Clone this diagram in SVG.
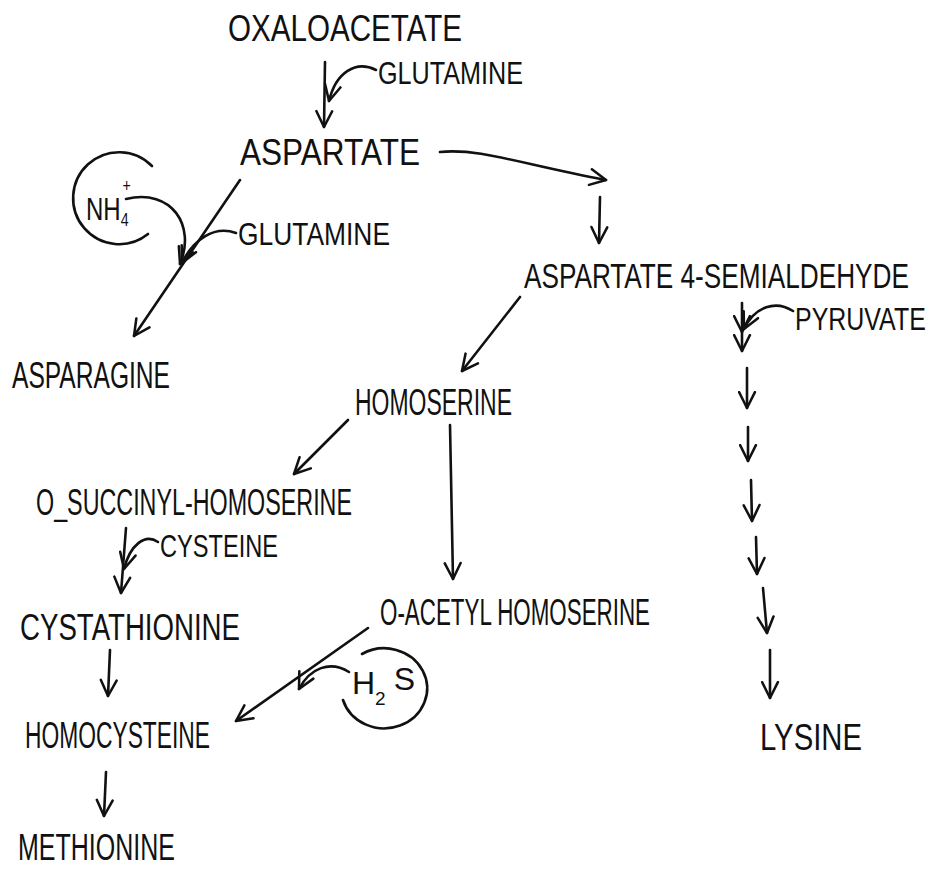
<svg xmlns="http://www.w3.org/2000/svg" width="933" height="869" viewBox="0 0 933 869">
  <defs>
    <!-- open chevron arrowhead, hand-drawn style -->
    <marker id="head" viewBox="0 0 12 12" refX="11" refY="6" markerWidth="19" markerHeight="19" markerUnits="userSpaceOnUse" orient="auto">
      <path d="M1,1 L11,6 L1,11" fill="none" stroke="#111" stroke-width="1.6" stroke-linecap="round" stroke-linejoin="round"/>
    </marker>
  </defs>
  <style>
    text { font-family: "Liberation Sans", Arial, sans-serif; fill: #111; font-size: 36px; }
    .sm { font-size: 32px; }
    .sub { font-size: 19px; }
    .wire { fill: none; stroke: #111; stroke-width: 2.6; stroke-linecap: round; stroke-linejoin: round; }
    .arr { marker-end: url(#head); }
  </style>
  <rect width="933" height="869" fill="#fff"/>

  <g id="oxaloacetate"><text x="228" y="41" textLength="234" lengthAdjust="spacingAndGlyphs">OXALOACETATE</text></g>
  <g id="glutamine-1"><text class="sm" x="378" y="84" textLength="145" lengthAdjust="spacingAndGlyphs">GLUTAMINE</text></g>
  <g id="aspartate"><text x="240" y="165" textLength="180" lengthAdjust="spacingAndGlyphs">ASPARTATE</text></g>
  <g id="ammonium">
    <path class="wire" d="M152,166 A46,46 0 1 0 148,234"/>
    <text class="sm" transform="translate(86,220) scale(0.75,1)">NH<tspan class="sub" dy="6">4</tspan><tspan class="sub" dx="-8" dy="-34">+</tspan></text>
  </g>
  <g id="glutamine-2"><text class="sm" x="238" y="245" textLength="152" lengthAdjust="spacingAndGlyphs">GLUTAMINE</text></g>
  <g id="aspartate-semialdehyde"><text transform="translate(524,288) scale(0.727,1)">ASPARTATE 4-SEMIALDEHYDE</text></g>
  <g id="pyruvate"><text class="sm" transform="translate(795,330) scale(0.78,1)">PYRUVATE</text></g>
  <g id="asparagine"><text x="12" y="388" textLength="158" lengthAdjust="spacingAndGlyphs">ASPARAGINE</text></g>
  <g id="homoserine"><text x="355" y="415" textLength="157" lengthAdjust="spacingAndGlyphs">HOMOSERINE</text></g>
  <g id="o-succinyl-homoserine"><text x="36" y="515" textLength="316" lengthAdjust="spacingAndGlyphs">O_SUCCINYL-HOMOSERINE</text></g>
  <g id="cysteine"><text class="sm" x="160" y="557" textLength="118" lengthAdjust="spacingAndGlyphs">CYSTEINE</text></g>
  <g id="cystathionine"><text x="20" y="640" textLength="220" lengthAdjust="spacingAndGlyphs">CYSTATHIONINE</text></g>
  <g id="o-acetyl-homoserine"><text x="380" y="625" textLength="270" lengthAdjust="spacingAndGlyphs">O-ACETYL HOMOSERINE</text></g>
  <g id="hydrogen-sulfide">
    <path class="wire" d="M362,654 A43,40 0 1 1 343,700"/>
    <text class="sm" x="352" y="694">H<tspan class="sub" dy="11">2</tspan><tspan dx="8" dy="-15">S</tspan></text>
  </g>
  <g id="homocysteine"><text x="25" y="748" textLength="185" lengthAdjust="spacingAndGlyphs">HOMOCYSTEINE</text></g>
  <g id="methionine"><text x="18" y="860" textLength="157" lengthAdjust="spacingAndGlyphs">METHIONINE</text></g>
  <g id="lysine"><text x="760" y="750" textLength="102" lengthAdjust="spacingAndGlyphs">LYSINE</text></g>

  <g id="connectors">
    <!-- oxaloacetate to aspartate, glutamine joining -->
    <path class="wire arr" d="M325,62 L324,127"/>
    <path class="wire arr" d="M376,70 C356,60 336,72 329,101"/>
    <!-- aspartate branches -->
    <path class="wire arr" d="M440,152 C480,148 520,164 606,180"/>
    <path class="wire arr" d="M600,197 L599,243"/>
    <path class="wire arr" d="M240,180 L134,336"/>
    <path class="wire arr" d="M126,199 C172,188 196,226 180,264"/>
    <path class="wire arr" d="M236,233 C214,225 193,240 182,263"/>
    <!-- semialdehyde to homoserine -->
    <path class="wire arr" d="M520,297 L462,371"/>
    <!-- homoserine branches -->
    <path class="wire arr" d="M348,420 L294,474"/>
    <path class="wire arr" d="M450,425 L453,579"/>
    <!-- methionine route via cystathionine -->
    <path class="wire arr" d="M126,528 L121,593"/>
    <path class="wire arr" d="M158,542 C145,533 130,545 124,569"/>
    <path class="wire arr" d="M110,650 L108,696"/>
    <path class="wire arr" d="M106,772 L104,816"/>
    <!-- direct sulfhydrylation -->
    <path class="wire arr" d="M368,628 L236,721"/>
    <path class="wire arr" d="M349,672 C330,660 310,668 299,689"/>
    <!-- lysine route -->
    <path class="wire arr" d="M742,303 L742,332"/>
    <path class="wire arr" d="M742,332 L742,351"/>
    <path class="wire arr" d="M793,311 C776,300 755,306 744,329"/>
    <path class="wire arr" d="M747,368 L747,408"/>
    <path class="wire arr" d="M748,427 L748,461"/>
    <path class="wire arr" d="M751,480 L752,521"/>
    <path class="wire arr" d="M756,537 L757,574"/>
    <path class="wire arr" d="M763,588 L767,633"/>
    <path class="wire arr" d="M770,650 L770,698"/>
  </g>
</svg>
